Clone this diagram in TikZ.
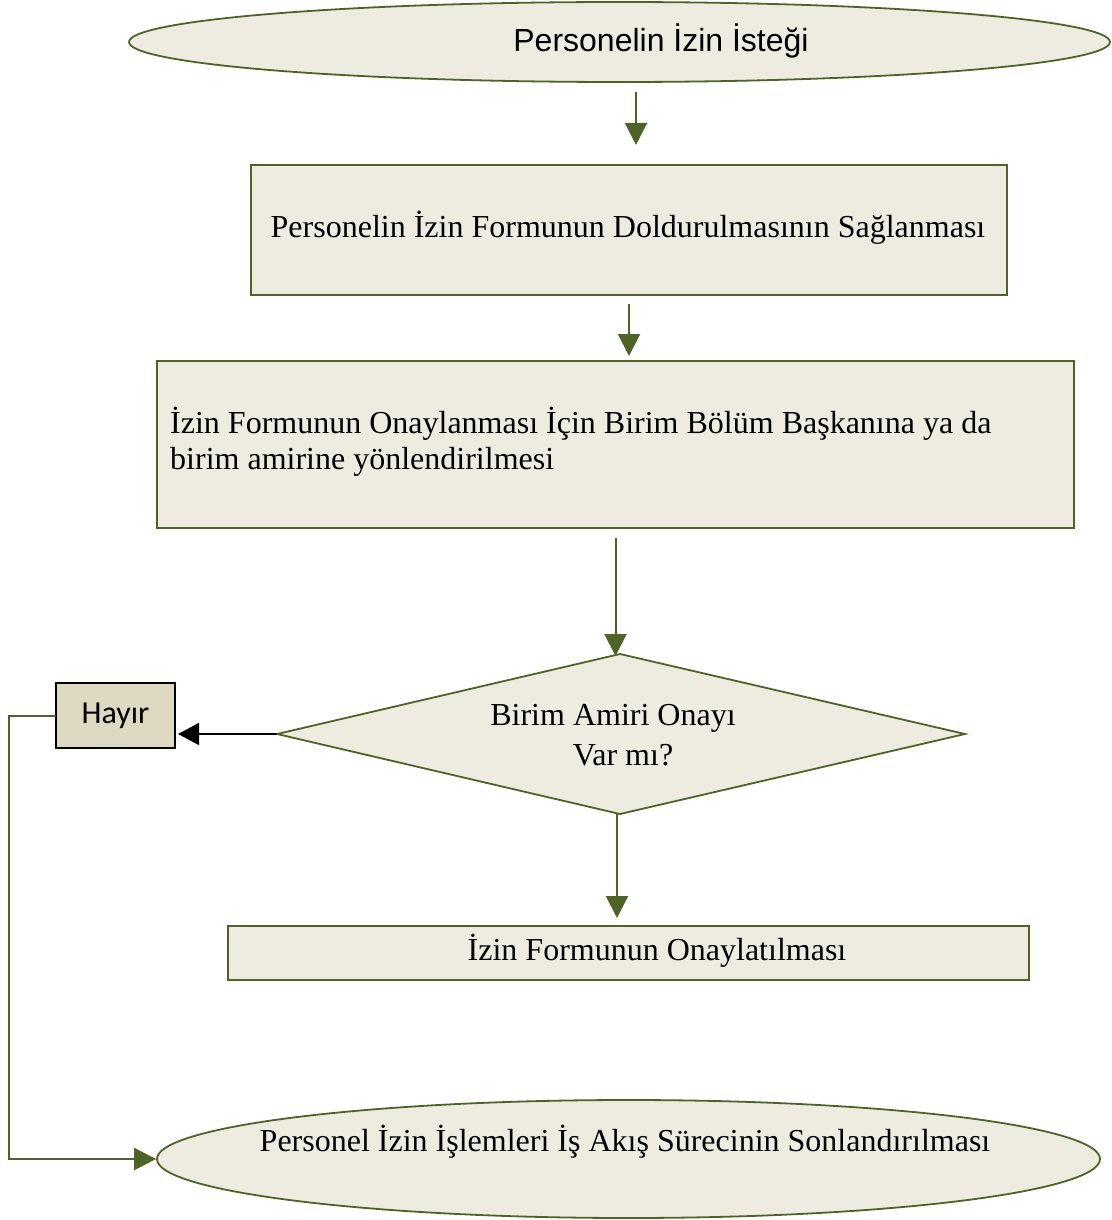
\documentclass[tikz,border=0pt]{standalone}
\usepackage{fontspec}
\setmainfont{Liberation Serif}
\newfontfamily\arialf{Liberation Sans}
\newfontfamily\calib{Carlito}
\usetikzlibrary{shapes.geometric,arrows.meta}
\definecolor{boxfill}{HTML}{EEECE1}
\definecolor{boxline}{HTML}{4F6228}
\definecolor{hayirfill}{HTML}{DDD9C3}
\begin{document}
\begin{tikzpicture}[x=1pt,y=-1pt,
  base/.style={draw=boxline, fill=boxfill, line width=1.8pt, inner sep=0pt},
  ellbox/.style={base, ellipse},
  rectbox/.style={base, rectangle},
  txt/.style={font=\fontsize{32}{36}\selectfont, inner sep=0pt},
  conn/.style={draw=boxline, line width=2pt, -{Triangle[length=22pt,width=22pt]}},
  bconn/.style={draw=black, line width=1.6pt, -{Triangle[length=21pt,width=22pt]}}
]
\useasboundingbox (0,0) rectangle (1111,1220);

% top ellipse
\node[ellbox, minimum width=981pt, minimum height=80pt] (start) at (619.5,42) {};
\node[txt, font=\arialf\fontsize{32}{36}\selectfont] (startT) at (661,41) {Personelin İzin İsteği};

% rect 1
\node[rectbox, minimum width=756pt, minimum height=130pt] (r1) at (629,230) {};
\node[txt] (r1T) at (628,228) {Personelin İzin Formunun Doldurulmasının Sağlanması};

% rect 2
\node[rectbox, minimum width=917pt, minimum height=167pt] (r2) at (615.5,444.5) {};
\node[txt, anchor=west, align=left] (r2T) at (170,442) {İzin Formunun Onaylanması İçin Birim Bölüm Başkanına ya da\\birim amirine yönlendirilmesi};

% diamond
\coordinate (dT) at (620,654);
\coordinate (dR) at (965,734);
\coordinate (dB) at (620,814);
\coordinate (dL) at (277,734);
\draw[base] (dT) -- (dR) -- (dB) -- (dL) -- cycle;
\node[txt] (dT1) at (613,718) {Birim Amiri Onayı};
\node[txt] (dT2) at (623,755) {Var mı?};

% Hayir box
\node[draw=black, fill=hayirfill, line width=2pt, minimum width=119pt, minimum height=65pt, inner sep=0pt,
  font=\calib\fontsize{32}{36}\selectfont] (hayir) at (115.5,715.5) {Hayır};

% rect 3
\node[rectbox, minimum width=801pt, minimum height=54pt] (r3) at (628.5,953) {};
\node[txt] (r3T) at (657,951) {İzin Formunun Onaylatılması};

% bottom ellipse
\node[ellbox, minimum width=943pt, minimum height=118pt] (end) at (628.5,1159) {};
\node[txt] (endT) at (625,1142) {Personel İzin İşlemleri İş Akış Sürecinin Sonlandırılması};

% connectors
\coordinate (a1s) at (636,92);
\coordinate (a1e) at (636,145);
\draw[conn] (a1s) -- (a1e);
\coordinate (a2s) at (629,304);
\coordinate (a2e) at (629,356);
\draw[conn] (a2s) -- (a2e);
\coordinate (a3s) at (615.5,538);
\coordinate (a3e) at (615.5,656);
\draw[conn] (a3s) -- (a3e);
\coordinate (a4e) at (617,918);
\coordinate (a4s) at (617,814);
\draw[conn] (a4s) -- (a4e);
\coordinate (hE) at (178,734);
\draw[bconn] (dL) -- (hE);
\coordinate (h0) at (56,716);
\coordinate (h1) at (9,716);
\coordinate (h2) at (9,1159);
\draw[conn] (h0) -- (h1) -- (h2) -- (end.west);
\end{tikzpicture}
\end{document}
